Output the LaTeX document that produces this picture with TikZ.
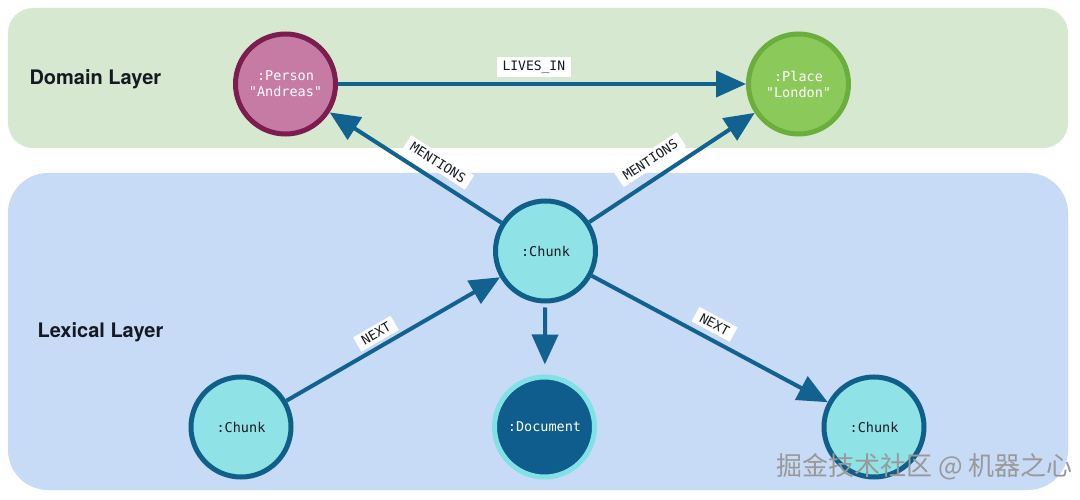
\documentclass[tikz,border=0pt]{standalone}
\usepackage{fontspec}
\setmainfont{TeX Gyre Heros}
\newfontfamily\monofont{DejaVu Sans Mono}
\newfontfamily\cjkfont{Noto Sans CJK SC}
\usetikzlibrary{arrows.meta,shapes.geometric}
\definecolor{domainbg}{HTML}{D6E8D0}
\definecolor{lexbg}{HTML}{C7DAF6}
\definecolor{edgec}{HTML}{12628F}
\definecolor{chunkfill}{HTML}{8FE3E7}
\definecolor{chunkdraw}{HTML}{0F5F89}
\definecolor{personfill}{HTML}{C67BA5}
\definecolor{persondraw}{HTML}{7B1D4E}
\definecolor{placefill}{HTML}{8CC95B}
\definecolor{placedraw}{HTML}{6BAE3D}
\definecolor{docfill}{HTML}{0E5D8C}
\definecolor{docdraw}{HTML}{82E1E6}
\definecolor{textdark}{HTML}{151A22}
\tikzset{
  ent/.style={circle, minimum size=100pt, inner sep=0pt, line width=5pt,
    font=\monofont\fontsize{13.5}{16}\selectfont, align=center},
  chunkbox/.style={ent, fill=chunkfill, draw=chunkdraw, text=textdark},
  personbox/.style={ent, fill=personfill, draw=persondraw, text=white},
  placebox/.style={ent, fill=placefill, draw=placedraw, text=white},
  docbox/.style={ent, fill=docfill, draw=docdraw, text=white},
  rel/.style={draw=edgec, line width=4pt, -{Triangle[length=30pt,width=26pt]}},
  rlabel/.style={fill=white, text=textdark, font=\monofont\fontsize{13}{15}\selectfont,
    inner xsep=6pt, inner ysep=3.5pt},
  layerlabel/.style={font=\bfseries\fontsize{20}{24}\selectfont, text=textdark, anchor=west},
}
\begin{document}
\begin{tikzpicture}[x=1pt,y=-1pt]
\useasboundingbox (0,0) rectangle (1080,500);
\fill[white] (0,0) rectangle (1080,500);
% layers
\fill[domainbg, rounded corners=25pt] (8,8) rectangle (1068,148);
\fill[lexbg, rounded corners=40pt] (8,173) rectangle (1068,490);
\node[layerlabel] (domain) at (26,79) {Domain Layer};
\node[layerlabel] (lexical) at (34,332) {Lexical Layer};
% nodes
\node[personbox] (person) at (285.5,84) {:Person\\"Andreas"};
\node[placebox] (place) at (798.5,84) {:Place\\"London"};
\node[chunkbox] (chunk) at (545.5,251) {:Chunk};
\node[chunkbox] (chunkL) at (241,427) {:Chunk};
\node[chunkbox] (chunkR) at (874,427) {:Chunk};
\node[docbox] (doc) at (544.5,427) {:Document};
% edges
\draw[rel] (person) -- node[rlabel, above=5pt, pos=0.48] (l1) {LIVES\_IN} (place);
\draw[rel] (chunk) -- node[rlabel, sloped, above=6pt, pos=0.42] (l2) {MENTIONS} (person);
\draw[rel] (chunk) -- node[rlabel, sloped, above=8pt, pos=0.43] (l3) {MENTIONS} (place);
\draw[rel] (chunkL) -- node[rlabel, sloped, above=3pt, pos=0.45] (l4) {NEXT} (chunk);
\draw[rel] (chunk) -- node[rlabel, sloped, above=5pt, pos=0.49] (l5) {NEXT} (chunkR);
\draw[rel, shorten <=4pt, shorten >=10pt] (chunk) -- (doc);
% watermark
\node[font=\cjkfont\fontsize{26}{28}\selectfont, text=black!40, anchor=east] (wm) at (1076,467) {掘金技术社区 @ 机器之心};
\end{tikzpicture}
\end{document}
